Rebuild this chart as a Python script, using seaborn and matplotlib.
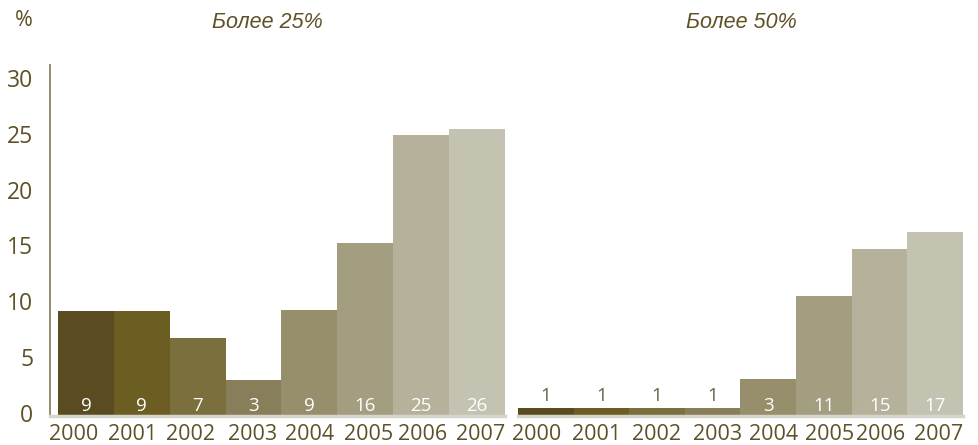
import matplotlib
matplotlib.use("Agg")
import matplotlib.pyplot as plt
from matplotlib.transforms import ScaledTranslation
import seaborn as sns
import pandas as pd

years = ["2000", "2001", "2002", "2003", "2004", "2005", "2006", "2007"]
over25 = [9.4, 9.4, 7.0, 3.2, 9.5, 15.5, 25.2, 25.8]
over25_labels = ["9", "9", "7", "3", "9", "16", "25", "26"]
over50 = [0.7, 0.7, 0.7, 0.7, 3.3, 10.8, 15.0, 16.5]
over50_labels = ["1", "1", "1", "1", "3", "11", "15", "17"]
titles = ["Более 25%", "Более 50%"]
yticks = [0, 5, 10, 15, 20, 25, 30]
colors = ["#5A4C20", "#6C5D23", "#7B6F3E", "#897E5A",
          "#978F6C", "#A49E80", "#B6B19B", "#C4C3B1"]

# layout: small horizontal nudges (pixels) of the year labels, as in the original
shift_left_px = [-12, -9, -7, -1, 0, 3, 1, 4]
shift_right_px = [-9, -5, -1, 5, 5, 6, 1, 3]

TXT = "#5E5128"
DARKLBL = "#6A6248"

sns.set_theme(style="white")
plt.rcParams['font.family'] = ['Open Sans', 'DejaVu Sans']

W, H = 979, 445
fig = plt.figure(figsize=(W / 100, H / 100), dpi=100)
bottom = (H - 416) / H
height = 351 / H
ax1 = fig.add_axes([50 / W, bottom, 455 / W, height])
ax2 = fig.add_axes([518 / W, bottom, 445 / W, height])

groups = [(ax1, over25, over25_labels, shift_left_px, 55.9),
          (ax2, over50, over50_labels, shift_right_px, 55.6)]
for ax, vals, labels, shifts, pxw in groups:
    df = pd.DataFrame({"year": years, "value": vals})
    sns.barplot(data=df, x="year", y="value", hue="year", palette=colors,
                legend=False, width=1, saturation=1, linewidth=0, ax=ax)
    ax.set_ylim(0, 31.5)
    ax.set_xlabel("")
    ax.set_ylabel("")
    for i, (v, lab) in enumerate(zip(vals, labels)):
        if v > 2:
            ax.text(i, 0.1, lab, ha="center", va="bottom", fontsize=13.5,
                    color="white", fontfamily="Open Sans")
        else:
            ax.text(i, v + 0.25, lab, ha="center", va="bottom", fontsize=13.5,
                    color=DARKLBL, fontfamily="Open Sans")
    ax.set_xticks([i + s / pxw for i, s in enumerate(shifts)], labels=years)
    ax.tick_params(axis="x", length=0, pad=6, labelsize=15.5, labelcolor=TXT)
    for s in ["top", "right"]:
        ax.spines[s].set_visible(False)
    ax.spines["bottom"].set_color("#D6D5CC")
    ax.spines["bottom"].set_linewidth(2.5)

ax1.set_xlim(-0.5 - 8 / 55.9, 7.5)
ax2.set_xlim(-0.5, 7.5)

ax1.set_yticks(yticks)
ax1.tick_params(axis="y", length=0, pad=12, labelsize=16.5, labelcolor=TXT)
shift = ScaledTranslation(0, 3.5 / 100, fig.dpi_scale_trans)
for lbl in ax1.get_yticklabels():
    lbl.set_transform(lbl.get_transform() + shift)
ax1.spines["left"].set_color("#8C8466")
ax1.spines["left"].set_linewidth(1.3)

ax2.spines["left"].set_visible(False)
ax2.set_yticks([])

fig.text(267 / W, 1 - 23 / H, titles[0], ha="center", va="center",
         fontsize=15.5, style="italic", color=TXT, fontfamily="Liberation Sans")
fig.text(741 / W, 1 - 23 / H, titles[1], ha="center", va="center",
         fontsize=15.5, style="italic", color=TXT, fontfamily="Liberation Sans")
fig.text(24 / W, 1 - 21 / H, "%", ha="center", va="center",
         fontsize=15.5, color=TXT, fontfamily="Open Sans")

fig.savefig("out.png", dpi=100, facecolor="white")
